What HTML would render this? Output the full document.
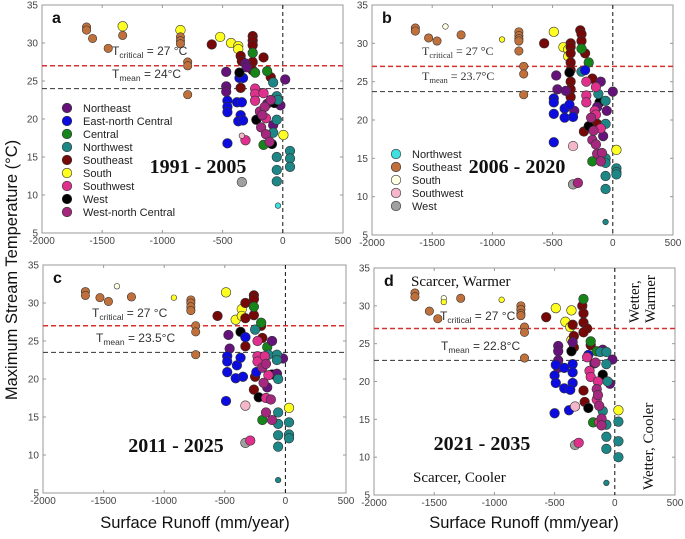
<!DOCTYPE html>
<html><head><meta charset="utf-8">
<style>
html,body{margin:0;padding:0;background:#fff;}
svg{display:block;font-family:"Liberation Sans",sans-serif;}
</style></head>
<body>
<svg id="fig" width="685" height="539" viewBox="0 0 685 539" xmlns="http://www.w3.org/2000/svg">
<text transform="translate(17,270) rotate(-90)" text-anchor="middle" font-size="16.5" fill="#111">Maximum Stream Temperature (°C)</text>
<text x="195" y="528" text-anchor="middle" font-size="16.5" fill="#111">Surface Runoff (mm/year)</text>
<text x="524" y="528" text-anchor="middle" font-size="16.5" fill="#111">Surface Runoff (mm/year)</text>
</svg>
<script>
const xTicks = [-2000,-1500,-1000,-500,0,500];
const yTicks = [5,10,15,20,25,30,35];
const tCritical = [27,27,27,27];
const tMean = [24,23.7,23.5,22.8];
const periods = ["1991 - 2005","2006 - 2020","2011 - 2025","2021 - 2035"];
const letters = ["a","b","c","d"];

const ptsA = [[-1630,32.1,'br'],[-1630,31.7,'br'],[-1580,30.6,'br'],[-1450,29.3,'br'],[-1330,31,'br'],[-850,31.7,'ye'],[-850,30.8,'br'],[-850,30.3,'br'],[-850,29.9,'br'],[-790,27.5,'br'],[-790,27,'br'],[-790,23.2,'br'],
[-1330,32.2,'ye'],[-520,30.8,'ye'],[-430,30,'ye'],[-370,29.6,'ye'],[-370,29.2,'ye'],[5,17.9,'ye'],
[-590,29.8,'se'],[-250,30.9,'se'],[-250,30.3,'se'],[-250,29.7,'se'],[-350,28.3,'se'],[-340,27.6,'se'],[-250,27.5,'se'],[-160,28.1,'se'],[-350,24.1,'se'],[-250,26.4,'se'],[-100,25.5,'se'],
[-250,28.7,'gr'],[-230,26.1,'gr'],[-130,26.3,'gr'],[-160,16.6,'gr'],
[-470,26.2,'ne'],[-470,24.3,'ne'],[-470,23.6,'ne'],[-310,27.3,'ne'],[-300,26.8,'ne'],[20,25.2,'ne'],[-130,22,'ne'],[-80,19.2,'ne'],[-20,21.8,'ne'],
[-460,22.4,'bl'],[-460,21.6,'bl'],[-460,20.9,'bl'],[-360,25.4,'bl'],[-330,25.4,'bl'],[-380,22.2,'bl'],[-340,22.2,'bl'],[-350,20.5,'bl'],[-370,19.7,'bl'],[-330,19.8,'bl'],[-460,16.8,'bl'],
[-360,26.1,'bk'],[-220,19.9,'bk'],[-70,22.1,'bk'],[-90,16.7,'bk'],
[-80,24.8,'te'],[-50,23,'te'],[-40,22.5,'te'],[-50,19.9,'te'],[-80,18.2,'te'],[-50,15,'te'],[-50,13.3,'te'],[-50,11.8,'te'],[60,15.8,'te'],[60,14.8,'te'],[60,13.7,'te'],
[-230,24,'sw'],[-230,23.3,'sw'],[-230,22.4,'sw'],[-160,23.4,'sw'],[-140,20.1,'sw'],[-310,17.2,'sw'],
[-190,21,'wn'],[-150,21.6,'wn'],[-180,18.9,'wn'],[-140,18,'wn'],[-110,17,'wn'],[-170,20.5,'wn'],[-100,22.5,'wn'],
[-340,11.7,'gy'],[-340,17.8,'lp'],[-40,8.6,'cy']];

const ptsB = [[-1640,32,'br'],[-1640,31.6,'br'],[-1530,30.7,'br'],[-1460,30.3,'br'],[-1260,31.1,'br'],[-780,31.5,'br'],[-780,31,'br'],[-780,30.6,'br'],[-780,30.3,'br'],[-780,29,'br'],[-740,27,'br'],[-740,26,'br'],[-740,23.3,'br'],
[-1390,32.2,'wh'],[-920,30.5,'ye'],
[-490,31.5,'ye'],[-410,29.5,'ye'],[-370,29.2,'ye'],[-370,28.3,'ye'],[30,16.1,'ye'],
[-570,30,'se'],[-350,30,'se'],[-350,29.5,'se'],[-350,28.7,'se'],[-350,27.5,'se'],[-350,26.5,'se'],[-350,25,'se'],[-350,24,'se'],[-350,23,'se'],[-270,31.7,'se'],[-260,31.2,'se'],[-260,30.3,'se'],[-230,28.7,'se'],[-170,25.4,'se'],[-130,19.5,'se'],[-240,18.5,'se'],
[-260,29.3,'gr'],[-200,27.5,'gr'],[-260,26.3,'te'],[-170,14.6,'gr'],
[-360,26.2,'bk'],[-200,19.2,'bk'],[-110,22.3,'bk'],
[-470,25.8,'ne'],[-460,24,'ne'],[-390,23.8,'ne'],[-320,21.2,'ne'],[-100,25,'ne'],[0,23.7,'ne'],[-130,21.7,'ne'],[-50,21.2,'ne'],[-80,17.9,'ne'],
[-490,22.8,'bl'],[-490,22.3,'bl'],[-490,20.8,'bl'],[-400,21.5,'bl'],[-400,20.3,'bl'],[-330,20.4,'bl'],[-360,22,'bl'],[-230,26.5,'bl'],[-490,17.1,'bl'],
[-120,23.4,'te'],[-60,22.5,'te'],[-60,19.5,'te'],[-60,15,'te'],[-60,14.4,'te'],[-60,12.7,'te'],[-60,11,'te'],[30,13.7,'te'],[30,13.2,'te'],[30,12.9,'te'],[-60,6.7,'te'],
[-220,25,'sw'],[-220,23.2,'sw'],[-220,22.3,'sw'],[-140,24.3,'sw'],[-150,21.2,'sw'],[-140,20.7,'sw'],[-100,18.9,'sw'],
[-180,20.3,'wn'],[-160,18.6,'wn'],[-170,17.4,'wn'],[-140,16.8,'wn'],[-130,15.6,'wn'],[-90,15.7,'wn'],[-100,14.6,'wn'],
[-330,16.6,'lp'],[-330,11.6,'gy'],[-290,11.8,'wn']];

const ptsC = [[-1650,31.5,'br'],[-1650,31,'br'],[-1530,30.7,'br'],[-1460,30.2,'br'],[-1270,30.8,'br'],[-780,30.4,'br'],[-780,30,'br'],[-780,29.5,'br'],[-780,29,'br'],[-740,27,'br'],[-740,26.2,'br'],[-740,23.2,'br'],
[-1390,32.2,'wh'],[-920,30.7,'ye'],
[-490,31.4,'ye'],[-360,29.2,'ye'],[-410,27.8,'ye'],[-360,28.3,'ye'],[30,16.2,'ye'],
[-560,28.3,'se'],[-330,30,'se'],[-330,28,'se'],[-330,25.5,'se'],[-330,24.3,'se'],[-260,31,'se'],[-260,30.5,'se'],[-260,28.4,'se'],[-200,27,'se'],[-190,25.4,'se'],[-250,20.3,'se'],[-260,18.6,'se'],
[-260,29.5,'gr'],[-250,26.5,'te'],[-200,27.4,'gr'],[-150,24.2,'gr'],[-190,14.6,'gr'],
[-370,26.2,'bk'],[-220,17.6,'bk'],[-110,20.6,'bk'],
[-470,25.8,'ne'],[-460,24,'ne'],[-110,25,'ne'],[-20,22.7,'ne'],[-70,20.7,'ne'],[-150,18.9,'ne'],
[-480,23,'bl'],[-480,22.3,'bl'],[-480,20.9,'bl'],[-400,21.8,'bl'],[-410,20.1,'bl'],[-350,20.3,'bl'],[-370,22.8,'bl'],[-330,25.5,'bl'],[-490,17.1,'bl'],[-240,20.9,'bl'],
[-140,23.2,'te'],[-70,23.2,'te'],[-70,22.5,'te'],[-60,20,'te'],[-60,15.6,'te'],[-60,14.1,'te'],[-60,12.6,'te'],[-60,11.1,'te'],[30,14.3,'te'],[30,12.7,'te'],[30,12.2,'te'],[-60,6.7,'te'],
[-230,25,'sw'],[-230,23,'sw'],[-230,22.3,'sw'],[-170,23,'sw'],[-140,20.5,'sw'],[-160,17.5,'sw'],
[-190,21.5,'wn'],[-160,22,'wn'],[-180,19.5,'wn'],[-120,17.3,'wn'],[-160,15.6,'wn'],[-110,14.6,'wn'],
[-330,16.5,'lp'],[-330,11.6,'gy'],[-290,11.9,'sw']];

const ptsD = [[-1660,31.7,'br'],[-1660,31.2,'br'],[-1540,29.3,'br'],[-1470,28.3,'br'],[-1280,31,'br'],[-780,30,'br'],[-780,29.5,'br'],[-780,29,'br'],[-780,28.7,'br'],[-750,27.2,'br'],[-750,26.5,'br'],[-750,23.1,'br'],
[-1420,31,'wh'],[-1420,30.5,'ye'],[-940,30.8,'ye'],
[-490,29.7,'ye'],[-410,27.9,'ye'],[-360,29.4,'ye'],[-370,27.2,'ye'],[-360,25.5,'ye'],[30,16.2,'ye'],
[-570,28.5,'se'],[-350,27.5,'se'],[-340,26,'se'],[-340,24.5,'se'],[-270,30,'se'],[-260,29,'se'],[-260,27.8,'se'],[-230,27,'se'],[-260,26.5,'se'],[-260,18.8,'se'],[-250,17.3,'se'],[-200,24.8,'se'],
[-260,30.9,'gr'],[-200,25.3,'gr'],[-150,24,'gr'],[-180,14.6,'gr'],
[-360,24,'bk'],[-220,16.5,'bk'],[-100,20.9,'bk'],
[-470,24.7,'ne'],[-470,24,'ne'],[-470,22.8,'ne'],[-470,21.8,'ne'],[-350,25.2,'ne'],[-100,24.2,'ne'],[-20,22.9,'ne'],[-40,19.7,'ne'],[-170,22.4,'ne'],
[-490,22.2,'bl'],[-500,20.8,'bl'],[-490,19.8,'bl'],[-420,21.8,'bl'],[-420,19.1,'bl'],[-350,22.3,'bl'],[-350,21.2,'bl'],[-350,19.8,'bl'],[-370,18.9,'bl'],[-500,15.8,'bl'],[-380,16.2,'bl'],[-220,23.5,'bl'],
[-120,23.9,'te'],[-70,23.9,'te'],[-70,22.3,'te'],[-60,20,'te'],[-100,16.1,'te'],[-70,14.3,'te'],[-70,12.7,'te'],[-70,11.1,'te'],[30,14.7,'te'],[30,12.1,'te'],[30,10,'te'],[-70,6.6,'te'],
[-230,23.2,'sw'],[-210,21.4,'sw'],[-200,20.6,'sw'],[-140,20,'sw'],[-150,17.6,'sw'],[-130,14.6,'sw'],
[-160,22.5,'wn'],[-150,19,'wn'],[-140,18.2,'wn'],[-130,16.8,'wn'],[-110,15.1,'wn'],[-110,14.2,'wn'],
[-330,16.7,'lp'],[-330,11.6,'gy'],[-300,11.9,'sw']];

const allPts = [ptsA, ptsB, ptsC, ptsD];
const legendA = ["Northeast","East-north Central","Central","Northwest","Southeast","South","Southwest","West","West-north Central"];
const legendAKeys = ["ne","bl","gr","te","se","ye","sw","bk","wn"];
const legendB = ["Northwest","Southeast","South","Southwest","West"];
const legendBKeys = ["cy","br","wh","lp","gy"];

const COL = {br:'#c0703a',ye:'#ffff22',se:'#760808',gr:'#15851a',ne:'#65127a',bl:'#0c0ce0',bk:'#000',te:'#1d8686',sw:'#e0308e',wn:'#a5287e',gy:'#a0a0a0',lp:'#f4b6c8',cy:'#40e0e0',wh:'#ffffe4'};
const boxes = [{l:42,r:343,t:5,b:233},{l:372,r:673,t:5,b:235},{l:43,r:346,t:265,b:493},{l:374,r:675,t:268,b:495}];
const NS = 'http://www.w3.org/2000/svg';
const svg = document.getElementById('fig');
function mk(tag, attrs, parent){const e=document.createElementNS(NS,tag);for(const k in attrs)e.setAttribute(k,attrs[k]);(parent||svg).appendChild(e);return e;}

boxes.forEach((B,pi)=>{
  const g = mk('g',{});
  
  
  const sx = v => B.l + (v+2000)/2500*(B.r-B.l);
  const sy = v => B.b - (v-5)/30*(B.b-B.t);
  const frame = mk('rect',{x:B.l,y:B.t,width:B.r-B.l,height:B.b-B.t,fill:'#fff',stroke:'#999','stroke-width':1},g);
  
  
  xTicks.forEach(v=>{
    mk('line',{x1:sx(v),x2:sx(v),y1:B.b,y2:B.b-3,stroke:'#999'},g);
    mk('line',{x1:sx(v),x2:sx(v),y1:B.t,y2:B.t+3,stroke:'#999'},g);
    const t = mk('text',{x:sx(v),y:B.b+11,'text-anchor':'middle','font-size':10,fill:'#444'},g);
    t.textContent = v;
    
    
  });
  yTicks.forEach(v=>{
    mk('line',{x1:B.l,x2:B.l+3,y1:sy(v),y2:sy(v),stroke:'#999'},g);
    mk('line',{x1:B.r,x2:B.r-3,y1:sy(v),y2:sy(v),stroke:'#999'},g);
    const t = mk('text',{x:B.l-4,y:sy(v)+3.5,'text-anchor':'end','font-size':10,fill:'#444'},g);
    t.textContent = v;
    
    
  });
  const l1 = mk('line',{x1:B.l,x2:B.r,y1:sy(tCritical[pi]),y2:sy(tCritical[pi]),stroke:'#d83030','stroke-width':1.5,'stroke-dasharray':'5,3'},g);
  
  
  const l2 = mk('line',{x1:B.l,x2:B.r,y1:sy(tMean[pi]),y2:sy(tMean[pi]),stroke:'#333','stroke-width':1,'stroke-dasharray':'5,3'},g);
  
  
  const l3 = mk('line',{x1:sx(0),x2:sx(0),y1:B.t,y2:B.b,stroke:'#111','stroke-width':1,'stroke-dasharray':'4,3'},g);
  
  
  allPts[pi].forEach(p=>{
    const small = (p[2]==='wh'||(p[2]==='ye'&&p[0]<-800&&pi>0)||p[1]<9||(pi===0&&p[2]==='lp'));
    const c = mk('circle',{cx:sx(p[0]),cy:sy(p[1]),r:small?2.8:(p[2]==='br'?4.2:4.8),fill:COL[p[2]],stroke:'#333','stroke-width':0.6},g);
    
    
  });
  const lt = mk('text',{x:B.l+10,y:B.t+18,'font-size':16,'font-weight':'bold',fill:'#111'},g);
  lt.textContent = letters[pi];
  
  
  const pt = mk('text',{x:[198,517,176,482][pi],y:[173,173,452,450][pi],'text-anchor':'middle','font-size':20,'font-weight':'bold','font-family':'"Liberation Serif",serif',fill:'#111'},g);
  pt.textContent = periods[pi];
  
  
  const serif = pi===1 ? '"Liberation Serif",serif' : '"Liberation Sans",sans-serif';
  const tcx=[112,422,92,440][pi], tcy=[55,55,317,320][pi], tmx=[112,422,96,441][pi], tmy=[78,80,342,350][pi];
  const tc = mk('text',{x:tcx,y:tcy,'font-size':12,fill:'#333','font-family':serif},g);
  tc.innerHTML = 'T<tspan font-size="8.5" dy="3">critical</tspan><tspan dy="-3"> =  27 °C</tspan>';
  
  
  const tm = mk('text',{x:tmx,y:tmy,'font-size':12,fill:'#333','font-family':serif},g);
  tm.innerHTML = 'T<tspan font-size="8.5" dy="3">mean</tspan><tspan dy="-3"> = '+tMean[pi]+'°C</tspan>';
  
  
});

function legend(names, keys, x, y, step){
  const g = mk('g',{});
  
  
  names.forEach((n,i)=>{
    const c = mk('circle',{cx:x,cy:y+i*step,r:4.8,fill:COL[keys[i]],stroke:'#333','stroke-width':0.6},g);
    
    
    const t = mk('text',{x:x+16,y:y+i*step+4,'font-size':11,fill:'#222'},g);
    t.textContent = n;
    
    
  });
}
legend(legendA, legendAKeys, 67, 108, 13);
legend(legendB, legendBKeys, 396, 154, 13);

function qlabel(txt, x, y, rot){
  const t = mk('text',{x:x,y:y,'font-size':15,fill:'#111','font-family':'"Liberation Serif",serif'});
  if(rot) t.setAttribute('transform','rotate(-90 '+x+' '+y+')');
  t.textContent = txt;
  
  
}
qlabel('Scarcer, Warmer', 411, 286, false);
qlabel('Scarcer, Cooler', 413, 482, false);
qlabel('Wetter,', 639, 323, true);
qlabel('Warmer', 655, 323, true);
qlabel('Wetter, Cooler', 653, 490, true);
</script>
</body></html>
